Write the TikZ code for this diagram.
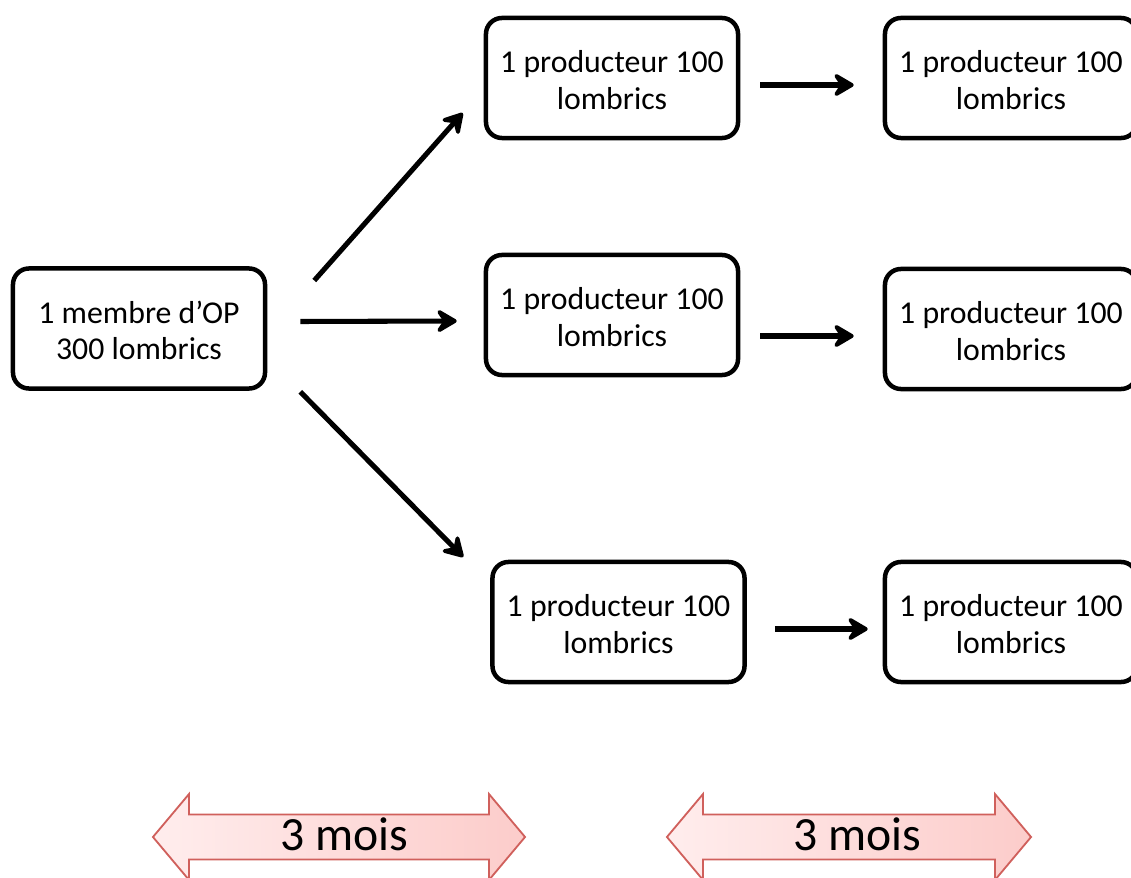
\documentclass[tikz,border=0pt]{standalone}
\usepackage{fontspec}
\setmainfont{Carlito}
\usetikzlibrary{arrows.meta,shapes.arrows}
\definecolor{moisBorder}{HTML}{D0605C}
\definecolor{moisLight}{HTML}{FFEDED}
\definecolor{moisDark}{HTML}{FCCCCA}
\tikzset{
	box/.style={draw, line width=3.2pt, rounded corners=0.4cm, minimum width=6.3cm,
		minimum height=3cm, inner sep=0, font=\fontsize{22.6}{26.2}\selectfont},
	arr/.style={line width=3.6pt, -{Stealth[length=18pt,width=21pt,inset=7pt,round]}},
	mois/.style={double arrow, draw=moisBorder, line width=1.3pt, left color=moisLight,
		right color=moisDark, double arrow tip angle=100, double arrow head extend=0.5125cm,
		inner sep=0, text height=0.8625cm, text depth=0.2125cm,
		font=\fontsize{33.9}{40}\selectfont}
}
% two centred lines, set a little below the middle of the box
\newcommand{\boxtxt}[2]{\raisebox{-0.14cm}[\height][\depth]{\begin{tabular}{@{}c@{}} #1 \\ #2 \end{tabular}}}
\newcommand{\prodtxt}{\boxtxt{1 producteur 100}{lombrics}}
\begin{document}
\begin{tikzpicture}[x=0.025cm, y=-0.025cm]
	\useasboundingbox (0,0) rectangle (1131,878);
	
	\node[box] (op) at (139, 328.5) {\boxtxt{1 membre d’OP}{300 lombrics}};
	
	% first generation
	\node[box] (p1) at (612, 78) {\prodtxt};
	\node[box] (p2) at (612, 315) {\prodtxt};
	\node[box] (p3) at (618.5, 622) {\prodtxt};
	
	% second generation
	\node[box] (q1) at (1011, 78) {\prodtxt};
	\node[box] (q2) at (1011, 329) {\prodtxt};
	\node[box] (q3) at (1011, 622) {\prodtxt};
	
	\draw[arr] ([shift={(47,-48)}]op.east) -- ([shift={(-21,35)}]p1.west);
	\draw[arr] ([shift={(33,-7)}]op.east) -- ([shift={(-27,6)}]p2.west);
	\draw[arr] ([shift={(33,1)}]op.south east) -- ([shift={(-27,-65)}]p3.west);
	
	\draw[arr] ([shift={(20,7)}]p1.east) -- ([shift={(-29,7)}]q1.west);
	\draw[arr] ([shift={(20,21)}]p2.east) -- ([shift={(-29,7)}]q2.west);
	\draw[arr] ([shift={(28,7)}]p3.east) -- ([shift={(-15,7)}]q3.west);
	
	% durations
	\node[mois, minimum height=9.3cm] (m1) at (339, 837) {\hspace*{0.25cm}3 mois};
	\node[mois, minimum height=9.1cm] (m2) at (849, 837) {\hspace*{0.4cm}3 mois};
\end{tikzpicture}
\end{document}
